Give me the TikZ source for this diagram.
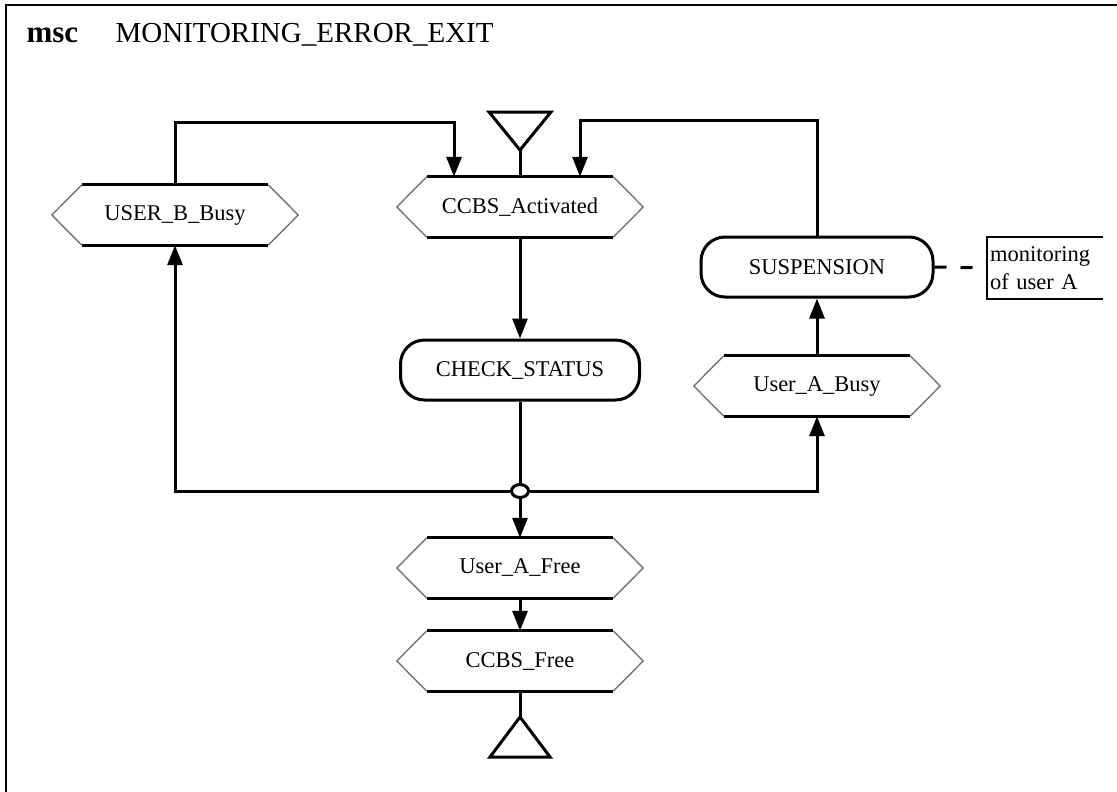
\documentclass[tikz,border=0pt]{standalone}
\usepackage{fontspec}
\setmainfont{Liberation Serif}
\usepackage{tikz}
\usetikzlibrary{arrows.meta,shapes.geometric}

\tikzset{
	ln/.style={line width=3pt, line join=miter},
	arr/.style={ln, -{Triangle[length=20pt,width=15pt]}},
	slant/.style={line width=1.4pt, draw=black!55},
	txt/.style={font=\fontsize{22.5}{28}\selectfont},
	cond/.style={txt, minimum width=186pt, minimum height=60pt, inner sep=0pt},
	refbox/.style={txt, draw, ln, rounded corners=24pt, minimum height=60pt, inner sep=0pt},
	junc/.style={draw, ln, fill=white, ellipse, minimum width=17pt, minimum height=13pt, inner sep=0pt},
	cmtbox/.style={txt, text width=110pt, inner xsep=3pt, inner ysep=0pt, minimum height=62pt, align=left}
}

\begin{document}
\begin{tikzpicture}[x=1pt,y=-1pt]

\useasboundingbox (0,0) rectangle (1117,792);

\draw[line width=2.5pt] (6,792)--(6,5)--(1117,5);

\node[anchor=base west, font=\bfseries\fontsize{31}{36}\selectfont] (kw)  at ( 23,43) {msc};
\node[anchor=base west, font=\fontsize{29}{34}\selectfont]          (ttl) at (112,43) {MONITORING\_ERROR\_EXIT};

\node[cond] (act)   at (520,207) {CCBS\_Activated};
\node[cond] (bbusy) at (175,215) {USER\_B\_Busy};
\node[refbox, minimum width=232pt] (susp) at (817,267) {SUSPENSION};
\node[refbox, minimum width=239pt] (chk)  at (520,370) {CHECK\_STATUS};
\node[cond] (abusy) at (817,386) {User\_A\_Busy};
\node[junc] (jn)    at (520,491) {};
\node[cond] (afree) at (520,568) {User\_A\_Free};
\node[cond] (cfree) at (520,661) {CCBS\_Free};

\node[cmtbox, anchor=west] (cmt) at (987,268) {monitoring\\of user A};

\coordinate (strt) at (520,150);
\coordinate (stp)  at (520,717);

\foreach \n in {act,bbusy,abusy,afree,cfree}{

	\draw[ln] (\n.north west)--(\n.north east);
	\draw[ln] (\n.south west)--(\n.south east);
	
	\draw[slant] (\n.north west)--([xshift=-30pt]\n.west)--(\n.south west);
	\draw[slant] (\n.north east)--([xshift= 30pt]\n.east)--(\n.south east);

}

\draw[ln] (strt)--++(-31,-38)--++(62,0)--cycle;
\draw[ln] (strt)--(act.north);

\draw[arr] (bbusy.north)--++(0,-62) -| ([xshift=-66pt]act.north);
\draw[arr] (susp.north) --++(0,-115) -| ([xshift= 60pt]act.north);

\draw[arr] (act.south)--(chk.north);
\draw[ln]  (chk.south)--(jn);
\draw[arr] (jn) -| (bbusy.south);
\draw[arr] (jn) -| (abusy.south);
\draw[arr] (abusy.north)--(susp.south);
\draw[arr] (jn)--(afree.north);
\draw[arr] (afree.south)--(cfree.north);

\draw[ln] (cfree.south)--(stp);
\draw[ln] (stp)--++(-30,40)--++(60,0)--cycle;

\draw[ln, dash pattern=on 12pt off 14pt] (susp.east)--(cmt.west);
\draw[line width=2.5pt] (cmt.north east)--(cmt.north west)--(cmt.south west)--(cmt.south east);

\end{tikzpicture}
\end{document}
